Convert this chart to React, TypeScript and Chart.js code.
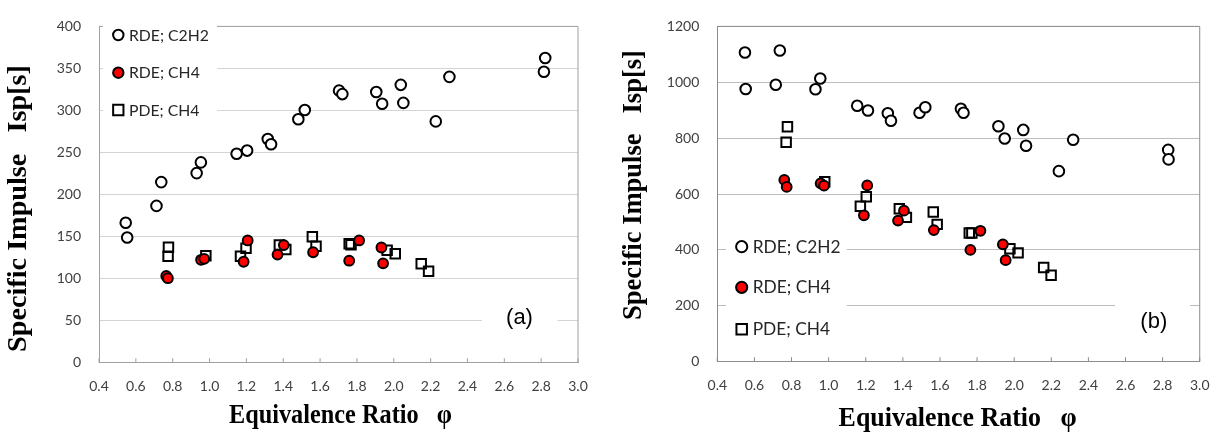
import React, { useEffect, useRef } from 'react';
import { Chart, registerables } from 'chart.js';

Chart.register(...registerables);

// ---------- shared labels / ticks ----------
const SERIES_NAMES = ['RDE; C2H2', 'RDE; CH4', 'PDE; CH4'];
const PANEL_LABELS = ['(a)', '(b)'];
const X_TITLE = 'Equivalence Ratio   φ';
const Y_TITLE = 'Specific Impulse   Isp[s]';
const X_TICKS = [0.4, 0.6, 0.8, 1.0, 1.2, 1.4, 1.6, 1.8, 2.0, 2.2, 2.4, 2.6, 2.8, 3.0];
const Y_TICKS_A = [0, 50, 100, 150, 200, 250, 300, 350, 400];
const Y_TICKS_B = [0, 200, 400, 600, 800, 1000, 1200];

// ---------- panel (a) data ----------
const A_C2H2_PHI = [0.545, 0.553, 0.712, 0.738, 0.93, 0.953, 1.147, 1.204, 1.316, 1.334, 1.482, 1.517, 1.703, 1.721, 1.905, 1.937, 2.038, 2.052, 2.228, 2.302, 2.815, 2.822];
const A_C2H2_ISP = [166.5, 149, 186.5, 214.8, 225.5, 238.3, 248.6, 252.3, 266, 259.8, 289.6, 300.6, 323.6, 319.5, 322, 308, 330.5, 309, 287, 340, 346, 362.5];
const A_CH4_RDE_PHI = [0.765, 0.774, 0.954, 0.971, 1.185, 1.207, 1.369, 1.403, 1.562, 1.758, 1.812, 1.933, 1.942];
const A_CH4_RDE_ISP = [103.1, 100.5, 122.4, 123.5, 120.1, 145.4, 128.6, 139.9, 131.4, 121.3, 145.4, 137, 118.2];
const A_CH4_PDE_PHI = [0.777, 0.775, 0.98, 1.168, 1.198, 1.379, 1.414, 1.558, 1.578, 1.758, 1.768, 1.964, 2.008, 2.149, 2.189];
const A_CH4_PDE_ISP = [137.2, 126.5, 127.2, 126.5, 136.1, 140, 134.6, 149.8, 138.5, 141.6, 140.2, 133.8, 129.5, 117.6, 108.7];

// ---------- panel (b) data ----------
const B_C2H2_PHI = [0.549, 0.553, 0.715, 0.737, 0.929, 0.955, 1.154, 1.212, 1.319, 1.336, 1.49, 1.521, 1.713, 1.727, 1.915, 1.949, 2.049, 2.064, 2.241, 2.318, 2.83, 2.832];
const B_C2H2_ISP = [1106.5, 976, 991, 1113.5, 975, 1013.5, 916, 899, 889, 862.5, 891, 910.5, 905.5, 891, 842.5, 799, 829.5, 773, 682, 794.5, 758, 724];
const B_CH4_RDE_PHI = [0.761, 0.774, 0.957, 0.975, 1.19, 1.208, 1.374, 1.406, 1.567, 1.764, 1.818, 1.939, 1.954];
const B_CH4_RDE_ISP = [650.5, 625.5, 638, 630, 524, 631, 505, 540.5, 471, 400, 468.5, 420, 363.3];
const B_CH4_PDE_PHI = [0.778, 0.771, 0.979, 1.171, 1.203, 1.381, 1.419, 1.564, 1.585, 1.758, 1.772, 1.977, 2.021, 2.159, 2.199];
const B_CH4_PDE_ISP = [841, 785.5, 644, 556, 590.5, 547, 516.5, 536, 491.5, 461, 461, 404, 389.5, 337.5, 309.3];

const FONT_SANS = 'Lato, "Liberation Sans", sans-serif';
const FONT_LABEL = '"Liberation Sans", Arial, sans-serif';
const FONT_SERIF = '"Liberation Serif", "DejaVu Serif", serif';
const CANVAS_H = 437;

type Box = [number, number, number, number];
interface PanelCfg {
  left: number;
  width: number;
  area: { left: number; right: number; top: number; bottom: number };
  yTicks: number[];
  series: [number[], number[]][];
  gridColor: string;
  axisColor: string;
  legend: { box: Box; markerX: number; textX: number; ys: number[]; textWidth: number; r: number; sq: number };
  label: { text: string; cx: number; baseline: number; box: Box };
  yTitle: { baselineX: number; cy: number; length: number };
  xTitle: { cx: number; baseline: number; width: number };
}

const PANELS: PanelCfg[] = [
  {
    left: 0,
    width: 612,
    area: { left: 99, right: 578, top: 9.5, bottom: 362.7 },
    yTicks: Y_TICKS_A,
    series: [
      [A_C2H2_PHI, A_C2H2_ISP],
      [A_CH4_RDE_PHI, A_CH4_RDE_ISP],
      [A_CH4_PDE_PHI, A_CH4_PDE_ISP],
    ],
    gridColor: '#d4d4d4',
    axisColor: '#a0a0a0',
    legend: { box: [103, 15, 114, 112], markerX: 118.3, textX: 129, ys: [35, 72.7, 110], textWidth: 80, r: 5.2, sq: 10.3 },
    label: { text: PANEL_LABELS[0], cx: 519.5, baseline: 324, box: [482, 306, 75.5, 24] },
    yTitle: { baselineX: 26.4, cy: 208.5, length: 287 },
    xTitle: { cx: 340.5, baseline: 423.3, width: 223 },
  },
  {
    left: 612,
    width: 613,
    area: { left: 105.3, right: 589.5, top: 9.5, bottom: 361.7 },
    yTicks: Y_TICKS_B,
    series: [
      [B_C2H2_PHI, B_C2H2_ISP],
      [B_CH4_RDE_PHI, B_CH4_RDE_ISP],
      [B_CH4_PDE_PHI, B_CH4_PDE_ISP],
    ],
    gridColor: '#bdbdbd',
    axisColor: '#8c8c8c',
    legend: { box: [114, 226, 120.7, 120], markerX: 129.7, textX: 140.7, ys: [246.7, 287.3, 329.3], textWidth: 88, r: 5.6, sq: 10.5 },
    label: { text: PANEL_LABELS[1], cx: 541.8, baseline: 327.5, box: [503, 292, 75, 42] },
    yTitle: { baselineX: 28.7, cy: 185, length: 270 },
    xTitle: { cx: 345.6, baseline: 426, width: 238 },
  },
];

const toPoints = (xs: number[], ys: number[]) => xs.map((x, i) => ({ x, y: ys[i] }));

function drawMarker(ctx: CanvasRenderingContext2D, kind: number, x: number, y: number, r: number, sq: number) {
  ctx.lineWidth = 2;
  ctx.strokeStyle = '#000';
  ctx.beginPath();
  if (kind === 2) {
    ctx.rect(x - sq / 2, y - sq / 2, sq, sq);
    ctx.stroke();
  } else {
    ctx.arc(x, y, r, 0, Math.PI * 2);
    ctx.fillStyle = kind === 1 ? '#ff0000' : '#ffffff';
    ctx.fill();
    ctx.stroke();
  }
}

function fitSize(ctx: CanvasRenderingContext2D, family: string, weight: string, text: string, target: number) {
  ctx.font = `${weight} 20px ${family}`;
  const w = ctx.measureText(text).width || 1;
  return (20 * target) / w;
}

function decorPlugin(p: PanelCfg) {
  return {
    id: 'decor',
    beforeDatasetsDraw(chart: any) {
      const ctx: CanvasRenderingContext2D = chart.ctx;
      const a = chart.chartArea;
      const xs = chart.scales.x;
      ctx.save();
      ctx.strokeStyle = p.axisColor;
      ctx.lineWidth = 1;
      ctx.beginPath();
      ctx.moveTo(a.left, a.top);
      ctx.lineTo(a.right, a.top);
      ctx.lineTo(a.right, a.bottom);
      ctx.stroke();
      ctx.beginPath();
      for (const v of X_TICKS) {
        const px = xs.getPixelForValue(v);
        ctx.moveTo(px, a.bottom);
        ctx.lineTo(px, a.bottom - 4.5);
      }
      ctx.stroke();
      ctx.fillStyle = '#ffffff';
      for (const b of [p.legend.box, p.label.box]) ctx.fillRect(b[0], b[1], b[2], b[3]);
      ctx.restore();
    },
    afterDraw(chart: any) {
      const ctx: CanvasRenderingContext2D = chart.ctx;
      ctx.save();
      // legend
      const L = p.legend;
      const legendSize = fitSize(ctx, FONT_SANS, 'normal', SERIES_NAMES[0], L.textWidth);
      SERIES_NAMES.forEach((name, i) => {
        drawMarker(ctx, i, L.markerX, L.ys[i], L.r, L.sq);
        ctx.fillStyle = '#262626';
        ctx.font = `${legendSize}px ${FONT_SANS}`;
        ctx.textAlign = 'left';
        ctx.textBaseline = 'middle';
        ctx.fillText(name, L.textX, L.ys[i] + 0.5);
      });
      // panel label
      ctx.fillStyle = '#000';
      ctx.font = `22px ${FONT_LABEL}`;
      ctx.textAlign = 'center';
      ctx.textBaseline = 'alphabetic';
      ctx.fillText(p.label.text, p.label.cx, p.label.baseline);
      // x title
      ctx.font = `bold 27px ${FONT_SERIF}`;
      const mw = ctx.measureText(X_TITLE).width;
      const sx = p.xTitle.width / mw;
      ctx.save();
      ctx.translate(p.xTitle.cx, p.xTitle.baseline);
      ctx.scale(sx, 1);
      ctx.fillText(X_TITLE, 0, 0);
      ctx.restore();
      // y title
      const ySize = fitSize(ctx, FONT_SERIF, 'bold', Y_TITLE, p.yTitle.length);
      ctx.font = `bold ${ySize}px ${FONT_SERIF}`;
      ctx.save();
      ctx.translate(p.yTitle.baselineX, p.yTitle.cy);
      ctx.rotate(-Math.PI / 2);
      ctx.fillText(Y_TITLE, 0, 0);
      ctx.restore();
      ctx.restore();
    },
  };
}

function buildConfig(p: PanelCfg): any {
  const kinds = [
    { style: 'circle', radius: 5.3, bg: '#ffffff' },
    { style: 'circle', radius: 4.9, bg: '#ff0000' },
    { style: 'rect', radius: 6.7, bg: 'rgba(0,0,0,0)' },
  ];
  const yMax = p.yTicks[p.yTicks.length - 1];
  return {
    type: 'scatter',
    data: {
      datasets: p.series.map(([xs, ys], i) => ({
        label: SERIES_NAMES[i],
        data: toPoints(xs, ys),
        showLine: false,
        pointStyle: kinds[i].style,
        pointRadius: kinds[i].radius,
        pointHoverRadius: kinds[i].radius,
        pointBorderWidth: 2,
        pointBorderColor: '#000000',
        pointBackgroundColor: kinds[i].bg,
        borderColor: '#000000',
        backgroundColor: kinds[i].bg,
      })),
    },
    options: {
      responsive: false,
      animation: false,
      devicePixelRatio: 1,
      events: [],
      layout: { padding: { left: 0, top: p.area.top, right: p.width - p.area.right, bottom: 0 } },
      plugins: { legend: { display: false }, tooltip: { enabled: false }, title: { display: false } },
      scales: {
        x: {
          type: 'linear',
          min: X_TICKS[0],
          max: X_TICKS[X_TICKS.length - 1],
          afterBuildTicks: (s: any) => {
            s.ticks = X_TICKS.map((v) => ({ value: v }));
          },
          afterFit: (s: any) => {
            s.height = CANVAS_H - p.area.bottom;
          },
          grid: { display: false, drawTicks: false },
          border: { display: true, color: p.axisColor, width: 1 },
          ticks: {
            autoSkip: false,
            maxRotation: 0,
            padding: 15.5,
            color: '#404040',
            font: { family: FONT_SANS, size: 14 },
            callback: (v: any) => Number(v).toFixed(1),
          },
        },
        y: {
          type: 'linear',
          min: p.yTicks[0],
          max: yMax,
          afterBuildTicks: (s: any) => {
            s.ticks = p.yTicks.map((v) => ({ value: v }));
          },
          afterFit: (s: any) => {
            s.width = p.area.left;
          },
          grid: { color: p.gridColor, lineWidth: 1, drawTicks: false },
          border: { display: true, color: p.axisColor, width: 1 },
          ticks: {
            padding: 18,
            color: '#404040',
            font: { family: FONT_SANS, size: 14 },
            callback: (v: any) => String(v),
          },
        },
      },
    },
    plugins: [decorPlugin(p)],
  };
}

function Panel({ cfg }: { cfg: PanelCfg }) {
  const ref = useRef<HTMLCanvasElement | null>(null);
  useEffect(() => {
    if (!ref.current) return;
    const chart = new Chart(ref.current, buildConfig(cfg));
    return () => chart.destroy();
  }, [cfg]);
  return (
    <canvas
      ref={ref}
      width={cfg.width}
      height={CANVAS_H}
      style={{ position: 'absolute', left: cfg.left, top: 0, width: cfg.width, height: CANVAS_H }}
    />
  );
}

export default function App() {
  return (
    <div style={{ position: 'absolute', left: 0, top: 0, width: 1225, height: CANVAS_H, background: '#ffffff', overflow: 'hidden' }}>
      {PANELS.map((p, i) => (
        <Panel key={i} cfg={p} />
      ))}
    </div>
  );
}
